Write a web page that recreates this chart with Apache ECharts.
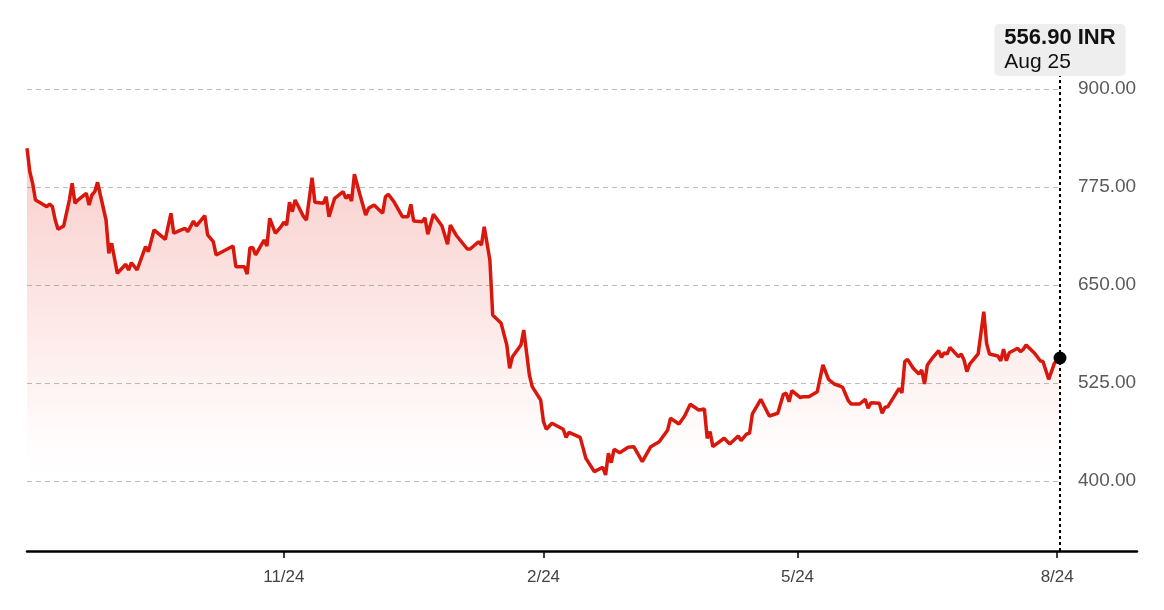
<!DOCTYPE html>
<html>
<head>
<meta charset="utf-8">
<script src="https://cdn.jsdelivr.net/npm/echarts@6/dist/echarts.min.js"></script>
<style>
html, body { margin: 0; padding: 0; background: #fff; }
#container1 { width: 1164px; height: 610px; }
</style>
</head>
<body>
<div id="container1"></div>
<script>
// daily close
var dates = [
    '2023-08-25','2023-08-26','2023-08-27','2023-08-28','2023-08-30','2023-09-01','2023-09-02','2023-09-03','2023-09-04','2023-09-05',
    '2023-09-07','2023-09-09','2023-09-10','2023-09-11','2023-09-12','2023-09-15','2023-09-16','2023-09-17','2023-09-18','2023-09-19',
    '2023-09-20','2023-09-22','2023-09-23','2023-09-24','2023-09-26','2023-09-29','2023-09-30','2023-10-01','2023-10-03','2023-10-06',
    '2023-10-07','2023-10-09','2023-10-13','2023-10-15','2023-10-16','2023-10-18','2023-10-20','2023-10-21','2023-10-23','2023-10-24',
    '2023-10-27','2023-10-28','2023-10-30','2023-10-31','2023-11-06','2023-11-07','2023-11-10','2023-11-11','2023-11-12','2023-11-13',
    '2023-11-14','2023-11-17','2023-11-18','2023-11-19','2023-11-21','2023-11-23','2023-11-24','2023-11-25','2023-11-26','2023-11-27',
    '2023-11-28','2023-12-01','2023-12-02','2023-12-04','2023-12-05','2023-12-08','2023-12-09','2023-12-10','2023-12-12','2023-12-15',
    '2023-12-16','2023-12-17','2023-12-18','2023-12-19','2023-12-21','2023-12-23','2023-12-24','2023-12-26','2023-12-29','2023-12-30',
    '2023-12-31','2024-01-02','2024-01-05','2024-01-07','2024-01-08','2024-01-09','2024-01-12','2024-01-13','2024-01-14','2024-01-16',
    '2024-01-19','2024-01-21','2024-01-22','2024-01-24','2024-01-28','2024-01-29','2024-02-01','2024-02-02','2024-02-03','2024-02-05',
    '2024-02-06','2024-02-09','2024-02-11','2024-02-12','2024-02-13','2024-02-16','2024-02-17','2024-02-19','2024-02-20','2024-02-23',
    '2024-02-24','2024-02-25','2024-02-27','2024-03-02','2024-03-03','2024-03-04','2024-03-08','2024-03-10','2024-03-13','2024-03-16',
    '2024-03-17','2024-03-18','2024-03-19','2024-03-20','2024-03-22','2024-03-25','2024-03-27','2024-03-30','2024-03-31','2024-04-02',
    '2024-04-05','2024-04-08','2024-04-09','2024-04-12','2024-04-14','2024-04-16','2024-04-19','2024-04-21','2024-04-22','2024-04-23',
    '2024-04-24','2024-04-28','2024-04-30','2024-05-03','2024-05-04','2024-05-06','2024-05-07','2024-05-08','2024-05-11','2024-05-14',
    '2024-05-17','2024-05-19','2024-05-20','2024-05-21','2024-05-22','2024-05-25','2024-05-26','2024-05-28','2024-05-31','2024-06-02',
    '2024-06-04','2024-06-06','2024-06-08','2024-06-09','2024-06-11','2024-06-12','2024-06-15','2024-06-17','2024-06-18','2024-06-19',
    '2024-06-22','2024-06-23','2024-06-24','2024-06-25','2024-06-29','2024-06-30','2024-07-01','2024-07-02','2024-07-04','2024-07-06',
    '2024-07-07','2024-07-08','2024-07-09','2024-07-11','2024-07-13','2024-07-14','2024-07-15','2024-07-16','2024-07-17','2024-07-20',
    '2024-07-21','2024-07-22','2024-07-23','2024-07-24','2024-07-27','2024-07-29','2024-07-30','2024-07-31','2024-08-03','2024-08-04',
    '2024-08-05','2024-08-06','2024-08-07','2024-08-10','2024-08-11','2024-08-12','2024-08-13','2024-08-16','2024-08-18','2024-08-19',
    '2024-08-21','2024-08-23','2024-08-25'
];
var prices = [
    824.4, 794.5, 779.7, 758.4, 754.2, 749.9, 753.3, 750.0, 732.9, 721.0,
    725.3, 758.4, 779.7, 754.2, 758.4, 767.0, 752.0, 764.8, 769.0, 781.0,
    764.8, 732.9, 690.4, 703.2, 664.9, 676.4, 669.1, 678.4, 669.1, 698.9,
    692.5, 720.2, 708.3, 741.5, 716.0, 719.3, 722.3, 718.0, 731.6, 725.3,
    738.4, 713.8, 705.2, 688.3, 699.7, 673.3, 673.3, 664.0, 697.6, 697.6,
    688.3, 707.4, 699.7, 735.1, 716.0, 724.4, 730.0, 726.5, 755.5, 743.5,
    758.4, 737.1, 732.9, 786.9, 755.5, 754.2, 762.6, 737.1, 760.6, 769.0,
    760.6, 764.8, 757.1, 791.2, 764.8, 739.3, 747.8, 752.0, 741.5, 762.6,
    765.7, 756.3, 737.1, 737.1, 752.9, 731.6, 730.7, 735.8, 714.7, 740.2,
    725.6, 701.9, 726.5, 713.8, 695.9, 695.9, 705.2, 701.0, 724.4, 681.9,
    611.7, 601.1, 573.5, 543.8, 558.6, 573.5, 592.6, 535.2, 520.3, 503.3,
    475.6, 466.0, 473.6, 466.0, 455.7, 462.1, 455.7, 429.0, 411.9, 417.5,
    407.7, 435.3, 423.3, 440.4, 436.1, 443.0, 443.8, 424.6, 431.0, 443.8,
    450.1, 465.1, 480.0, 472.7, 482.9, 497.8, 490.6, 491.8, 454.5, 462.9,
    443.8, 454.5, 447.2, 457.4, 451.4, 460.0, 460.8, 485.5, 504.2, 482.9,
    486.4, 510.6, 511.9, 501.1, 515.2, 506.3, 507.6, 507.6, 513.9, 548.0,
    529.7, 523.7, 521.2, 519.5, 502.4, 498.2, 498.2, 504.2, 492.7, 499.9,
    499.1, 486.4, 494.0, 494.8, 518.2, 512.6, 552.2, 555.2, 543.8, 536.5,
    541.6, 523.7, 548.0, 557.8, 566.2, 557.8, 563.6, 562.0, 570.5, 558.6,
    562.0, 554.3, 539.4, 549.2, 562.0, 615.9, 575.6, 562.0, 559.4, 553.4,
    568.0, 553.4, 563.6, 569.3, 564.9, 568.0, 573.5, 562.9, 553.4, 552.2,
    529.7, 550.1, 556.9
];
var yTicks = [400, 525, 650, 775, 900];
var xTickDates = ['2023-11-24', '2024-02-24', '2024-05-24', '2024-08-24'];
var currency = 'INR';
var monthNames = ['Jan', 'Feb', 'Mar', 'Apr', 'May', 'Jun', 'Jul', 'Aug', 'Sep', 'Oct', 'Nov', 'Dec'];

var FONT = '"Liberation Sans", Arial, sans-serif';

function toTime(s) {
    var p = s.split('-');
    return new Date(+p[0], +p[1] - 1, +p[2]).getTime();
}

Chart_Init();

function Chart_Init() {
    var myChart = echarts.init(document.getElementById('container1'));
    var seriesData = [];
    for (var i = 0; i < dates.length; i++) {
        seriesData.push([toTime(dates[i]), prices[i]]);
    }
    var firstT = toTime(dates[0]);
    var lastT = toTime(dates[dates.length - 1]);
    var lastP = prices[prices.length - 1];
    var lastD = new Date(lastT);
    var xTicks = xTickDates.map(toTime);

    var option = {
        animation: false,
        grid: [
            { left: 27, right: 104, top: 89, bottom: 129 },  // plot
            { left: 27, right: 27, top: 540, bottom: 59 },   // long base line
            { left: 27, right: 104, top: 76, bottom: 59 }    // ticks + marker line
        ],
        xAxis: [
            { type: 'value', gridIndex: 0, min: firstT, max: lastT, show: false },
            {
                type: 'value', gridIndex: 1, min: 0, max: 1,
                axisLine: { show: true, lineStyle: { color: '#000', width: 2.5 } },
                axisTick: { show: false }, axisLabel: { show: false }, splitLine: { show: false }
            },
            {
                type: 'value', gridIndex: 2, min: firstT, max: lastT,
                axisLine: { show: false },
                axisTick: { show: true, customValues: xTicks, length: 7, lineStyle: { color: '#000', width: 1.5 } },
                axisLabel: {
                    show: true, customValues: xTicks, margin: 18,
                    color: '#444', fontSize: 17, fontFamily: FONT,
                    formatter: function (v) {
                        var d = new Date(v);
                        return (d.getMonth() + 1) + '/' + d.getDate();
                    }
                },
                splitLine: { show: false }
            }
        ],
        yAxis: [
            {
                type: 'value', gridIndex: 0, position: 'right',
                min: yTicks[0], max: yTicks[yTicks.length - 1], interval: yTicks[1] - yTicks[0],
                axisLine: { show: false }, axisTick: { show: false },
                axisLabel: {
                    margin: 18, color: '#5a5a5a', fontSize: 19, fontFamily: FONT,
                    padding: [4, 0, 0, 0],
                    formatter: function (v) { return v.toFixed(2); }
                },
                splitLine: { lineStyle: { color: '#bcbcbc', width: 1.2, type: [5, 4] } }
            },
            { type: 'value', gridIndex: 1, show: false },
            { type: 'value', gridIndex: 2, min: 0, max: 1, show: false }
        ],
        series: [
            {
                type: 'line',
                xAxisIndex: 0,
                yAxisIndex: 0,
                data: seriesData,
                showSymbol: false,
                silent: true,
                lineStyle: { color: '#d8180c', width: 3.5 },
                areaStyle: {
                    color: new echarts.graphic.LinearGradient(0, 0, 0, 1, [
                        { offset: 0, color: 'rgba(228, 50, 40, 0.34)' },
                        { offset: 0.45, color: 'rgba(228, 50, 40, 0.18)' },
                        { offset: 0.9, color: 'rgba(228, 50, 40, 0.01)' },
                        { offset: 1, color: 'rgba(228, 50, 40, 0)' }
                    ])
                },
                markPoint: {
                    silent: true,
                    symbol: 'circle',
                    symbolSize: 13,
                    itemStyle: { color: '#000' },
                    label: { show: false },
                    data: [{ coord: [lastT, lastP] }]
                },
                z: 3
            },
            {
                type: 'line',
                xAxisIndex: 2,
                yAxisIndex: 2,
                data: [[lastT, 0]],
                symbol: 'none',
                silent: true,
                lineStyle: { opacity: 0 },
                markLine: {
                    silent: true,
                    symbol: ['none', 'none'],
                    lineStyle: { color: '#000', width: 2, type: [3, 3] },
                    label: {
                        show: true,
                        position: 'end',
                        distance: 0,
                        backgroundColor: '#eeeeee',
                        borderRadius: 5,
                        padding: [1, 10, 1, 10],
                        formatter: '{a|' + lastP.toFixed(2) + ' ' + currency + '}\n{b|' +
                            monthNames[lastD.getMonth()] + ' ' + lastD.getDate() + '}',
                        rich: {
                            a: { fontFamily: FONT, fontSize: 22, fontWeight: 'bold', color: '#111', lineHeight: 25, align: 'left' },
                            b: { fontFamily: FONT, fontSize: 21, color: '#111', lineHeight: 25, align: 'left' }
                        }
                    },
                    data: [{ xAxis: lastT }]
                },
                z: 4
            }
        ]
    };
    myChart.setOption(option);
}
</script>
</body>
</html>
